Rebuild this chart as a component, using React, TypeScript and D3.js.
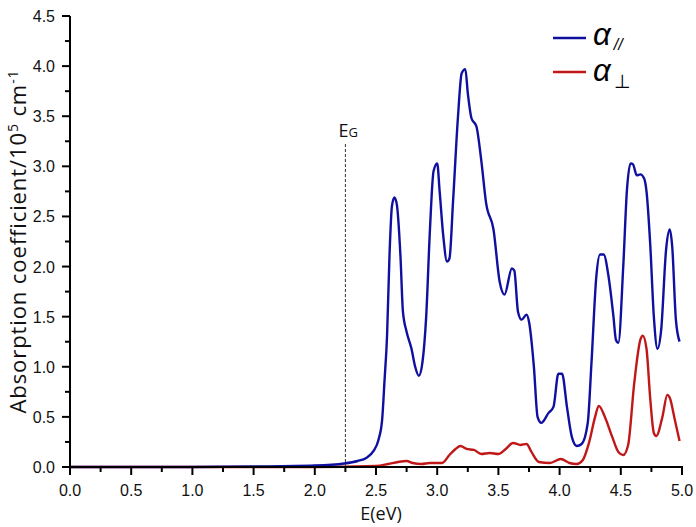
import React from "react";
import * as d3 from "d3";

// E (eV) and absorption (10^5 cm^-1) for the parallel polarisation
const parallelE = [0.0, 1.0, 1.5, 2.0, 2.24, 2.35, 2.42, 2.48, 2.52, 2.55, 2.57, 2.59, 2.61, 2.63, 2.65, 2.67, 2.7, 2.72, 2.75, 2.79, 2.82, 2.85, 2.88, 2.91, 2.94, 2.97, 3.0, 3.02, 3.05, 3.08, 3.1, 3.13, 3.17, 3.2, 3.23, 3.25, 3.28, 3.32, 3.36, 3.4, 3.46, 3.51, 3.55, 3.61, 3.63, 3.66, 3.69, 3.73, 3.75, 3.79, 3.82, 3.85, 3.91, 3.95, 3.99, 4.02, 4.06, 4.1, 4.14, 4.18, 4.23, 4.26, 4.3, 4.33, 4.36, 4.4, 4.44, 4.46, 4.48, 4.52, 4.55, 4.58, 4.6, 4.63, 4.66, 4.69, 4.71, 4.74, 4.77, 4.8, 4.83, 4.87, 4.9, 4.92, 4.95, 4.98];
const parallelA = [0.0, 0.0, 0.005, 0.015, 0.035, 0.06, 0.09, 0.16, 0.27, 0.47, 0.87, 1.3, 2.1, 2.6, 2.69, 2.62, 2.1, 1.55, 1.35, 1.18, 1.0, 0.91, 1.05, 1.5, 2.35, 2.95, 3.03, 2.75, 2.3, 2.05, 2.08, 2.66, 3.5, 3.93, 3.97, 3.73, 3.48, 3.4, 3.06, 2.63, 2.37, 1.85, 1.72, 1.98, 1.96, 1.55, 1.47, 1.52, 1.45, 1.0, 0.5, 0.44, 0.54, 0.6, 0.93, 0.93, 0.6, 0.3, 0.21, 0.23, 0.44, 1.03, 1.9, 2.12, 2.12, 1.9, 1.5, 1.27, 1.24, 2.0, 2.76, 3.03, 3.02, 2.91, 2.92, 2.88, 2.75, 2.23, 1.5, 1.18, 1.37, 2.17, 2.37, 2.2, 1.47, 1.25];

// perpendicular polarisation
const perpE = [0.0, 2.0, 2.5, 2.6, 2.68, 2.75, 2.8, 2.87, 2.94, 3.0, 3.04, 3.1, 3.15, 3.19, 3.24, 3.3, 3.36, 3.43, 3.5, 3.56, 3.62, 3.68, 3.73, 3.77, 3.83, 3.92, 4.01, 4.08, 4.14, 4.19, 4.24, 4.29, 4.32, 4.37, 4.43, 4.48, 4.52, 4.56, 4.61, 4.66, 4.68, 4.71, 4.74, 4.77, 4.79, 4.84, 4.88, 4.9, 4.94, 4.98];
const perpA = [0.0, 0.0, 0.01, 0.03, 0.05, 0.06, 0.04, 0.03, 0.04, 0.04, 0.04, 0.12, 0.18, 0.21, 0.18, 0.17, 0.13, 0.14, 0.13, 0.18, 0.24, 0.22, 0.23, 0.15, 0.05, 0.04, 0.08, 0.04, 0.03, 0.07, 0.24, 0.5, 0.61, 0.5, 0.3, 0.15, 0.12, 0.22, 0.84, 1.27, 1.31, 1.18, 0.69, 0.34, 0.31, 0.5, 0.72, 0.69, 0.48, 0.26];

const xTicks = [0.0, 0.5, 1.0, 1.5, 2.0, 2.5, 3.0, 3.5, 4.0, 4.5, 5.0];
const yTicks = [0.0, 0.5, 1.0, 1.5, 2.0, 2.5, 3.0, 3.5, 4.0, 4.5];
const bandGap = 2.25;

const W = 696;
const H = 527;

export default function App() {
  const x = d3.scaleLinear().domain([0, 5]).range([70, 682]);
  const y = d3.scaleLinear().domain([0, 4.5]).range([467, 16]);

  const line = d3
    .line<number>()
    .x((d) => x(d))
    .curve(d3.curveMonotoneX);

  const pathFor = (es: number[], vs: number[]) =>
    line.y((_, i) => y(vs[i]))(es) || "";

  const xMinor = xTicks.slice(0, -1).map((t) => t + 0.25);
  const yMinor = yTicks.slice(0, -1).map((t) => t + 0.25);

  const blue = "#1010a0";
  const red = "#c01818";
  const sans = "'Liberation Sans', Arial, sans-serif";
  const open = "'Open Sans', sans-serif";

  return (
    <svg
      width={W}
      height={H}
      style={{ position: "absolute", left: 0, top: 0, background: "#fff" }}
    >
      {/* curves */}
      <path d={pathFor(perpE, perpA)} fill="none" stroke={red} strokeWidth={2.4} />
      <path d={pathFor(parallelE, parallelA)} fill="none" stroke={blue} strokeWidth={2.4} />

      {/* band gap marker */}
      <line
        x1={x(bandGap)}
        x2={x(bandGap)}
        y1={144}
        y2={y(0)}
        stroke="#333"
        strokeWidth={1}
        strokeDasharray="3,2"
      />
      <text x={x(bandGap) - 7} y={137} fontFamily={open} fontSize={18} fill="#111">
        E<tspan fontSize={13}>G</tspan>
      </text>

      {/* axes */}
      <g stroke="#000" strokeWidth={2}>
        <line x1={x(0)} x2={x(5) + 1} y1={y(0)} y2={y(0)} />
        <line x1={x(0)} x2={x(0)} y1={y(0) + 1} y2={y(4.5)} />
        {xTicks.map((t) => (
          <line key={"xt" + t} x1={x(t)} x2={x(t)} y1={y(0)} y2={y(0) + 8} />
        ))}
        {xMinor.map((t) => (
          <line key={"xm" + t} x1={x(t)} x2={x(t)} y1={y(0)} y2={y(0) + 5} />
        ))}
        {yTicks.map((t) => (
          <line key={"yt" + t} x1={x(0) - 8} x2={x(0)} y1={y(t)} y2={y(t)} />
        ))}
        {yMinor.map((t) => (
          <line key={"ym" + t} x1={x(0) - 5} x2={x(0)} y1={y(t)} y2={y(t)} />
        ))}
      </g>

      <g fontFamily={sans} fontSize={16} fill="#111">
        {xTicks.map((t) => (
          <text key={"xl" + t} x={x(t)} y={496} textAnchor="middle">
            {t.toFixed(1)}
          </text>
        ))}
        {yTicks.map((t) => (
          <text key={"yl" + t} x={55} y={y(t) + 6} textAnchor="end">
            {t.toFixed(1)}
          </text>
        ))}
      </g>

      {/* axis titles */}
      <text x={381} y={520} textAnchor="middle" fontFamily={open} fontSize={18} fill="#111">
        E(eV)
      </text>
      <text
        transform={`translate(26,${(y(0) + y(4.5)) / 2}) rotate(-90)`}
        textAnchor="middle"
        fontFamily={open}
        fontSize={22}
        letterSpacing={0.9}
        fill="#111"
      >
        Absorption coefficient/10<tspan dy={-8} fontSize={14}>5</tspan>
        <tspan dy={8}> cm</tspan>
        <tspan dy={-8} fontSize={14}>-1</tspan>
      </text>

      {/* legend */}
      <line x1={553} x2={586} y1={38} y2={38} stroke={blue} strokeWidth={2.4} />
      <text x={593} y={45} fontFamily={sans} fontStyle="italic" fontSize={31} fill="#000">
        α<tspan dx={3} dy={5} fontSize={16}>//</tspan>
      </text>
      <line x1={553} x2={586} y1={72} y2={72} stroke={red} strokeWidth={2.4} />
      <text x={593} y={81} fontFamily={sans} fontStyle="italic" fontSize={31} fill="#000">
        α<tspan dx={3} dy={7} fontSize={19} fontStyle="normal">⊥</tspan>
      </text>
    </svg>
  );
}
